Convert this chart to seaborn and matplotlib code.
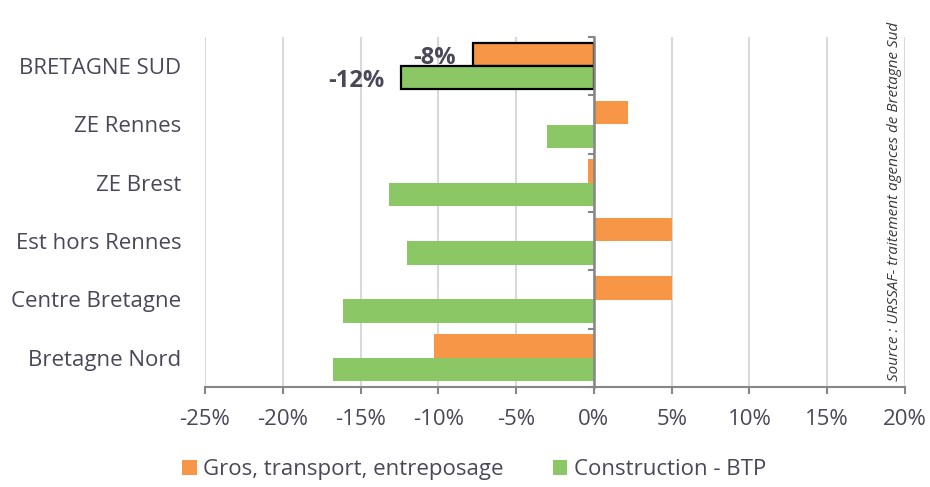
import pandas as pd
import matplotlib
matplotlib.use('Agg')
import matplotlib.pyplot as plt
import seaborn as sns

zones = ["BRETAGNE SUD", "ZE Rennes", "ZE Brest", "Est hors Rennes", "Centre Bretagne", "Bretagne Nord"]
series = ["Gros, transport, entreposage", "Construction - BTP"]
gros = [-7.8, 2.2, -0.4, 5.0, 5.0, -10.3]
btp = [-12.4, -3.0, -13.2, -12.0, -16.1, -16.8]
xticks = [-25, -20, -15, -10, -5, 0, 5, 10, 15, 20]
source = "Source : URSSAF- traitement agences de Bretagne Sud"

df = pd.concat([
    pd.DataFrame({'zone': zones, 'serie': series[0], 'val': gros}),
    pd.DataFrame({'zone': zones, 'serie': series[1], 'val': btp}),
])

sns.set_theme(style='white')
plt.rcParams['font.family'] = ['Open Sans', 'DejaVu Sans']
txt = '#4a4858'
gray = '#868686'

fig = plt.figure(figsize=(9.3, 4.87), dpi=100)
ax = fig.add_axes([205/930, 1-387/487, 700/930, 350/487])

sns.barplot(data=df, y='zone', x='val', hue='serie', orient='h', width=0.8, saturation=1,
            palette=['#F79646', '#8BC765'], linewidth=0, ax=ax, zorder=3)

# encadrer Bretagne Sud
for p in ax.patches:
    if p.get_height() > 0 and abs(p.get_y() + p.get_height()/2 - 0) < 0.45:
        p.set_edgecolor('black')
        p.set_linewidth(1.6)

for i, v in enumerate([gros[0], btp[0]]):
    ax.annotate(f"{v:.0f}%", (v, -0.2 + 0.4*i), xytext=(-12, -2.5), textcoords='offset points',
                ha='right', va='center', fontsize=17, fontweight='bold', color=txt)

ax.set_xlim(-25, 20)
ax.set_xticks(xticks)
ax.set_xticklabels([f"{t}%" for t in xticks])
ax.grid(axis='x', color='#d9d9d9', lw=1.5, zorder=0)
ax.set_axisbelow(True)
for s in ['left', 'top', 'right']:
    ax.spines[s].set_visible(False)
ax.spines['bottom'].set_color(gray)
ax.spines['bottom'].set_linewidth(1.5)
ax.tick_params(axis='x', direction='out', length=5, width=1.5, color=gray,
               labelsize=16, labelcolor=txt, pad=11, bottom=True)
ax.tick_params(axis='y', length=0, labelsize=16, labelcolor=txt, pad=17)
ax.set_xlabel('')
ax.set_ylabel('')

# axe du zero avec graduations entre categories
sec = ax.secondary_yaxis(25/45)
sec.set_zorder(6)
bounds = [k - 0.5 for k in range(len(zones) + 1)]
sec.set_yticks(bounds, labels=['' for b in bounds])
sec.tick_params(axis='y', direction='out', length=4.5, width=1.5, color=gray,
                labelleft=False, labelright=False, left=True, right=False)
for s in sec.spines.values():
    s.set_color(gray)
    s.set_linewidth(1.8)

handles, labels = ax.get_legend_handles_labels()
ax.get_legend().remove()
fig.legend(handles, labels, loc='center', bbox_to_anchor=(0.51, 0.035), ncol=2, frameon=False,
           handlelength=0.65, handleheight=0.65, handletextpad=0.3, columnspacing=2.2,
           fontsize=16, labelcolor=txt)

fig.text(894/930, 1 - 201/487, source, rotation=90, ha='center', va='center',
         fontsize=11, style='italic', color='#3a3a3a')

fig.savefig('out.png', dpi=100)
